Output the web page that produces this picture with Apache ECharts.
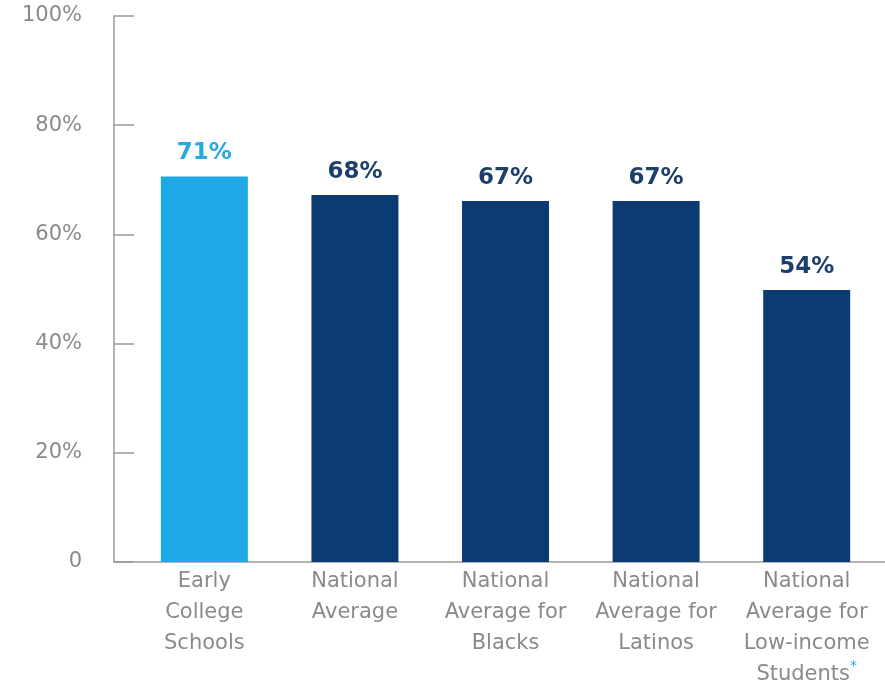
<!DOCTYPE html>
<html>
<head>
<meta charset="utf-8">
<script src="https://cdn.jsdelivr.net/npm/echarts@6/dist/echarts.min.js"></script>
<style>html,body{margin:0;padding:0;background:#fff;}#c{width:885px;height:685px;}</style>
</head>
<body>
<div id="c"></div>
<script>
const categories = [
  'Early\nCollege\nSchools',
  'National\nAverage',
  'National\nAverage for\nBlacks',
  'National\nAverage for\nLatinos',
  'National\nAverage for\nLow-income\nStudents{star|*}'
];
// bar heights as drawn in the picture (percent)
const barHeights = [70.6, 67.2, 66.1, 66.1, 49.8];
// value labels printed above the bars
const barLabels = ['71%', '68%', '67%', '67%', '54%'];
const yTicks = [0, 20, 40, 60, 80, 100];

const lightBlue = '#1fa8e6';
const navy = '#0c3b73';
const gray = '#8a8a8a';
const fontFam = 'DejaVu Sans';

const chart = echarts.init(document.getElementById('c'));
chart.setOption({
  animation: false,
  grid: { left: 114, right: 0, top: 16, bottom: 123, outerBoundsMode: 'none', containLabel: false },
  xAxis: {
    type: 'value',
    min: -0.6,
    max: 4.52,
    splitLine: { show: false },
    axisTick: { show: false },
    axisLine: { show: true, onZero: false, lineStyle: { color: '#9a9a9a', width: 1.5 } },
    axisLabel: {
      customValues: [0, 1, 2, 3, 4],
      formatter: v => categories[Math.round(v)],
      color: gray,
      fontFamily: fontFam,
      fontSize: 21,
      lineHeight: 31,
      margin: 4,
      rich: { star: { color: lightBlue, fontSize: 14, verticalAlign: 'top', fontFamily: fontFam } }
    }
  },
  yAxis: {
    type: 'value',
    min: 0,
    max: 100,
    interval: 20,
    splitLine: { show: false },
    axisLine: { show: true, onZero: false, lineStyle: { color: '#9a9a9a', width: 1.5 } },
    axisTick: { show: true, inside: true, length: 20, lineStyle: { color: '#9a9a9a', width: 1.5 } },
    axisLabel: {
      customValues: yTicks,
      formatter: v => v === 0 ? '0' : v + '%',
      color: gray,
      fontFamily: fontFam,
      fontSize: 21,
      margin: 32
    }
  },
  series: [{
    type: 'bar',
    barWidth: 87,
    data: barHeights.map((h, i) => ({
      value: [i, h],
      itemStyle: { color: i === 0 ? lightBlue : navy },
      label: {
        show: true,
        position: 'top',
        distance: 12,
        formatter: barLabels[i],
        color: i === 0 ? '#2aa9e0' : '#1d3f6c',
        fontFamily: fontFam,
        fontWeight: 'bold',
        fontSize: 23
      }
    }))
  }]
});
</script>
</body>
</html>
